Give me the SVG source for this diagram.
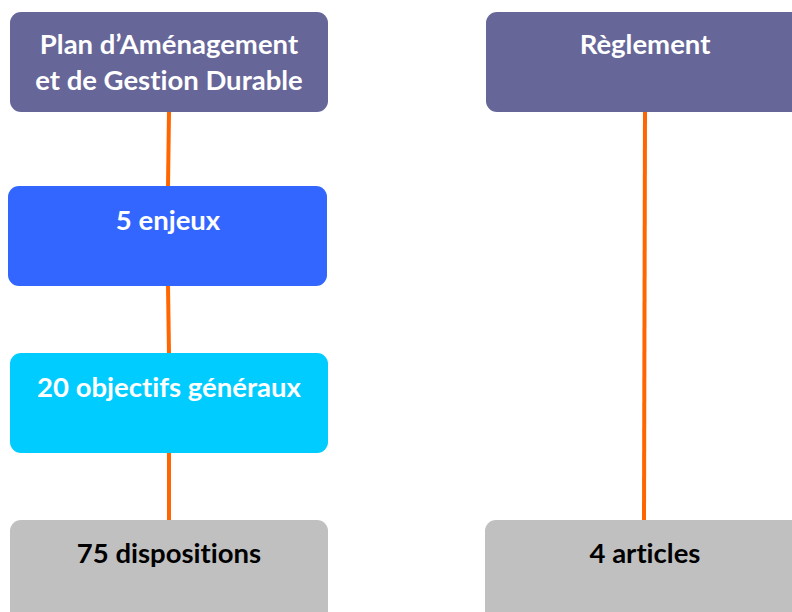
<svg xmlns="http://www.w3.org/2000/svg" width="792" height="612" viewBox="0 0 792 612">
<style>
.box{stroke:none}
.t{font-family:Lato,"Open Sans","Liberation Sans",sans-serif;font-weight:bold;font-size:27.5px;text-anchor:middle;font-variant-ligatures:none}
.w{fill:#ffffff}
.k{fill:#000000}
.c{stroke:#FF6600;stroke-width:4;fill:none}
</style>
<rect width="792" height="612" fill="#ffffff"/>
<g id="connectors">
<line class="c" x1="169" y1="112" x2="168" y2="187"/>
<line class="c" x1="168" y1="285" x2="169" y2="354"/>
<line class="c" x1="169" y1="452" x2="169" y2="521"/>
<line class="c" x1="645" y1="112" x2="644" y2="521"/>
</g>
<g id="plan">
<rect class="box" x="10" y="12" width="318" height="100" rx="11" fill="#666699"/>
<text class="t w" x="169" y="54">Plan d’Aménagement</text>
<text class="t w" x="169" y="90">et de Gestion Durable</text>
</g>
<g id="reglement">
<rect class="box" x="486" y="12" width="320" height="100" rx="11" fill="#666699"/>
<text class="t w" x="645" y="54">Règlement</text>
</g>
<g id="enjeux">
<rect class="box" x="8" y="186" width="319" height="100" rx="11" fill="#3366FF"/>
<text class="t w" x="168" y="230">5 enjeux</text>
</g>
<g id="objectifs">
<rect class="box" x="10" y="353" width="318" height="100" rx="11" fill="#00CCFF"/>
<text class="t w" x="169" y="397">20 objectifs généraux</text>
</g>
<g id="dispositions">
<rect class="box" x="10" y="520" width="318" height="110" rx="11" fill="#C0C0C0"/>
<text class="t k" x="169" y="563">75 dispositions</text>
</g>
<g id="articles">
<rect class="box" x="485" y="520" width="320" height="110" rx="11" fill="#C0C0C0"/>
<text class="t k" x="645" y="563">4 articles</text>
</g>
</svg>
